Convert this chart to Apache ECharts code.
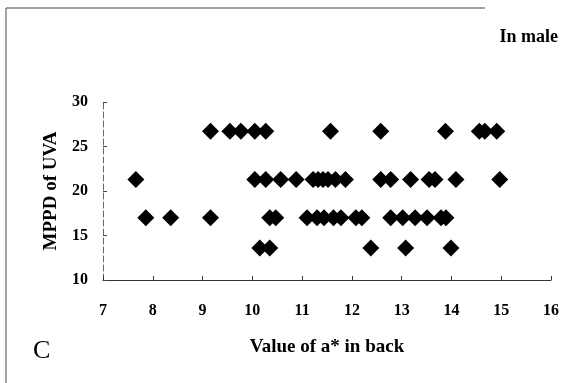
<!DOCTYPE html>
<html>
<head>
<meta charset="utf-8">
<script src="https://cdn.jsdelivr.net/npm/echarts@6/dist/echarts.min.js"></script>
<style>
  html, body { margin: 0; padding: 0; background: #fff; }
  #chart { width: 565px; height: 383px; }
</style>
</head>
<body>
<div id="chart"></div>
<script>
const rowLevels = [26.7, 21.3, 17.0, 13.6];
const aRow1 = [9.16, 9.55, 9.77, 10.05, 10.27, 11.57, 12.58, 13.88, 14.56, 14.67, 14.91];
const aRow2 = [7.66, 10.05, 10.27, 10.57, 10.88, 11.22, 11.32, 11.42, 11.52, 11.67, 11.87,
  12.58, 12.78, 13.18, 13.55, 13.67, 14.09, 14.97];
const aRow3 = [7.86, 8.36, 9.16, 10.35, 10.47, 11.10, 11.30, 11.44, 11.63, 11.78, 12.08,
  12.20, 12.78, 13.02, 13.27, 13.51, 13.79, 13.89];
const aRow4 = [10.15, 10.35, 12.38, 13.08, 13.99];

const xTicks = { min: 7, max: 16, step: 1 };
const yTicks = { min: 10, max: 30, step: 5 };

function buildPoints() {
  let rows = [aRow1, aRow2, aRow3, aRow4];
  let pts = [];
  for (let i = 0; i < rows.length; i++) {
    rows[i].forEach(function (a) { pts.push([a, rowLevels[i]]); });
  }
  return pts;
}

const serif = '"Liberation Serif", "DejaVu Serif", serif';
const ink = '#000';

const chart = echarts.init(document.getElementById('chart'), null, { renderer: 'canvas' });

chart.setOption({
  backgroundColor: '#fff',
  animation: false,
  grid: { left: 103, right: 14, top: 102, bottom: 103 },
  xAxis: {
    type: 'value',
    min: xTicks.min,
    max: xTicks.max,
    interval: xTicks.step,
    name: 'Value of a* in back',
    nameLocation: 'middle',
    nameGap: 58,
    nameTextStyle: { fontFamily: serif, fontSize: 19, fontWeight: 'bold', color: ink },
    axisLine: { show: true, lineStyle: { color: '#333', width: 1 } },
    axisTick: { show: true, inside: true, length: 4, lineStyle: { color: '#333' } },
    axisLabel: { margin: 23, fontFamily: serif, fontSize: 16, fontWeight: 'bold', color: ink },
    splitLine: { show: false }
  },
  yAxis: {
    type: 'value',
    min: yTicks.min,
    max: yTicks.max,
    interval: yTicks.step,
    name: 'MPPD of UVA',
    nameLocation: 'middle',
    nameGap: 42,
    nameTextStyle: { fontFamily: serif, fontSize: 19, fontWeight: 'bold', color: ink },
    axisLine: { show: true, lineStyle: { color: '#666', width: 1, type: [6, 3] } },
    axisTick: { show: true, inside: true, length: 4, lineStyle: { color: '#444' } },
    axisLabel: { margin: 15, fontFamily: serif, fontSize: 16, fontWeight: 'bold', color: ink },
    splitLine: { show: false }
  },
  graphic: [
    { type: 'line', shape: { x1: 6, y1: 8, x2: 6, y2: 383 }, style: { stroke: '#444', lineWidth: 1 } },
    { type: 'line', shape: { x1: 6, y1: 8, x2: 485, y2: 8 }, style: { stroke: '#444', lineWidth: 1 } },
    {
      type: 'text', right: 7, top: 28,
      style: { text: 'In male', font: 'bold 18px ' + serif, fill: ink }
    },
    {
      type: 'text', left: 33, top: 338,
      style: { text: 'C', font: '26px ' + serif, fill: ink }
    }
  ],
  series: [{
    type: 'scatter',
    symbol: 'diamond',
    symbolSize: 17,
    itemStyle: { color: '#000', opacity: 1 },
    data: buildPoints()
  }]
});
</script>
</body>
</html>
